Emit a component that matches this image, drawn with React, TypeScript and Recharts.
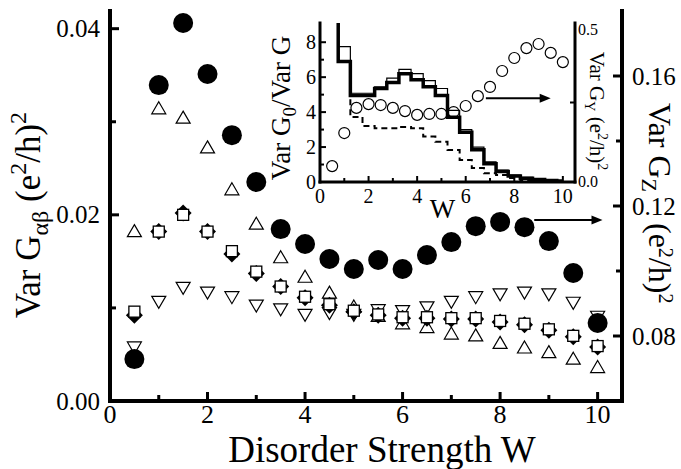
import React from "react";
import { ComposedChart, Scatter, Line, XAxis, YAxis, ReferenceLine } from "recharts";

const FONT = "'Liberation Serif', 'Times New Roman', 'DejaVu Serif', serif";
const txt = { fontFamily: FONT };

const disorder = [0.5, 1, 1.5, 2, 2.5, 3, 3.5, 4, 4.5, 5, 5.5, 6, 6.5, 7, 7.5, 8, 8.5, 9, 9.5, 10];

// main panel: Var G_ab, left axis
const varUp = [0.0183, 0.0315, 0.0305, 0.0273, 0.0228, 0.0191, 0.0155, 0.0134, 0.0117, 0.0102, 0.0092, 0.0084, 0.008, 0.0073, 0.0071, 0.0063, 0.0058, 0.0053, 0.0046, 0.0037];
const varDown = [0.0057, 0.0106, 0.0121, 0.0116, 0.0111, 0.0102, 0.0098, 0.0092, 0.0094, 0.0092, 0.0097, 0.0096, 0.01, 0.0106, 0.0111, 0.0114, 0.0116, 0.0114, 0.0105, 0.009];
const varDiamond = [0.0092, 0.0182, 0.0202, 0.0182, 0.0158, 0.0137, 0.0123, 0.0111, 0.0103, 0.0096, 0.0092, 0.0089, 0.0089, 0.0088, 0.0088, 0.0085, 0.0082, 0.0076, 0.0069, 0.0058];
const varSquare = [0.0096, 0.0182, 0.02, 0.0182, 0.0161, 0.0139, 0.0123, 0.0112, 0.0104, 0.0097, 0.0093, 0.009, 0.009, 0.0089, 0.0089, 0.0086, 0.0083, 0.0077, 0.007, 0.0059];
// Var G_Z, right axis
const varZ = [0.0729, 0.1572, 0.1763, 0.1606, 0.1418, 0.1274, 0.1129, 0.1083, 0.1037, 0.1006, 0.1034, 0.1006, 0.1049, 0.1089, 0.1138, 0.1151, 0.1135, 0.1092, 0.0994, 0.084];

// inset: Var G0 / Var G (left) and Var G_Y (right)
const ratioThin = [14, 7.75, 5.08, 5.08, 5.45, 5.95, 6.45, 6.2, 5.8, 5.35, 4.1, 3.0, 2.0, 1.15, 0.68, 0.4, 0.26, 0.17, 0.11, 0.07];
const ratioThick = [14, 6.9, 4.95, 4.95, 5.35, 5.7, 6.2, 5.85, 5.45, 4.95, 3.7, 2.85, 1.85, 1.05, 0.6, 0.35, 0.22, 0.14, 0.09, 0.06];
const ratioDashed = [14, 6.9, 3.72, 3.2, 3.08, 3.08, 3.15, 3.08, 2.6, 2.3, 1.83, 1.26, 0.8, 0.5, 0.4, 0.23, 0.12, 0.07, 0.04, 0.03];
const varY = [0.05, 0.154, 0.233, 0.245, 0.242, 0.233, 0.223, 0.211, 0.214, 0.214, 0.22, 0.239, 0.27, 0.299, 0.349, 0.39, 0.421, 0.434, 0.406, 0.377];

const wTicks = [0, 1, 2, 3, 4, 5, 6, 7, 8, 9, 10];
const leftTicks = [0, 0.01, 0.02, 0.03, 0.04];
const rightTicks = [0.08, 0.1, 0.12, 0.14, 0.16];
const insetLeftTicks = [0, 1, 2, 3, 4, 5, 6, 7, 8];
const insetRightTicks = [0, 0.25, 0.5];

const pts = (vals: number[]) => disorder.map((w, i) => ({ w, v: vals[i] }));
const insetData = disorder.map((w, i) => ({
  w,
  thin: ratioThin[i],
  thick: ratioThick[i],
  dash: ratioDashed[i],
  y: varY[i],
}));

type Side = "bottom" | "top" | "left" | "right";
interface TickSpec {
  side: Side;
  major: (v: number) => boolean;
  label?: (v: number) => string | null;
  len: number;
  minorLen: number;
  width: number;
  fontSize?: number;
  offset?: number;
  shift?: (v: number) => number;
}

function makeTick(s: TickSpec) {
  return (props: any) => {
    const { x, y, payload } = props;
    const v = payload.value;
    const big = s.major(v);
    const l = big ? s.len : s.minorLen;
    const text = big && s.label ? s.label(v) : null;
    const fs = s.fontSize ?? 24;
    const off = s.offset ?? 0;
    let x2 = x, y2 = y, tx = x, ty = y;
    let anchor = "middle";
    if (s.side === "bottom") { y2 = y - l; ty = y + off; }
    else if (s.side === "top") { y2 = y + l; }
    else if (s.side === "left") { x2 = x + l; tx = x - off; ty = y + fs * 0.34; anchor = "end"; }
    else { x2 = x - l; tx = x + off; ty = y + fs * 0.34; anchor = "start"; }
    if (text && s.shift) ty += s.shift(v);
    return (
      <g>
        {l > 0 && <line x1={x} y1={y} x2={x2} y2={y2} stroke="#000" strokeWidth={s.width} />}
        {text && (
          <text x={tx} y={ty} textAnchor={anchor} fontSize={fs} style={txt} fill="#000">
            {text}
          </text>
        )}
      </g>
    );
  };
}

const even = (v: number) => Math.round(v) % 2 === 0;
const axisMain = { stroke: "#000", strokeWidth: 4, strokeLinecap: "square" as const };
const axisInset = { stroke: "#000", strokeWidth: 3, strokeLinecap: "square" as const };

// marker shapes
const Dot = (p: any) => <circle cx={p.cx} cy={p.cy} r={10} fill="#000" />;
const UpTri = (p: any) => (
  <polygon points={`${p.cx},${p.cy - 6} ${p.cx + 7},${p.cy + 6} ${p.cx - 7},${p.cy + 6}`} fill="#fff" stroke="#000" strokeWidth={1.2} />
);
const DownTri = (p: any) => (
  <polygon points={`${p.cx - 7},${p.cy - 6} ${p.cx + 7},${p.cy - 6} ${p.cx},${p.cy + 6}`} fill="#fff" stroke="#000" strokeWidth={1.2} />
);
const Diamond = (p: any) => (
  <polygon points={`${p.cx},${p.cy - 8.5} ${p.cx + 8.5},${p.cy} ${p.cx},${p.cy + 8.5} ${p.cx - 8.5},${p.cy}`} fill="#000" />
);
const Square = (p: any) => (
  <rect x={p.cx - 5.5} y={p.cy - 5.5} width={11} height={11} fill="#fff" stroke="#000" strokeWidth={1.3} />
);
const OpenCircle = (p: any) => <circle cx={p.cx} cy={p.cy} r={5.5} fill="none" stroke="#000" strokeWidth={1.2} />;

const Arrow = (p: any) => {
  const { x1, y1, x2, y2 } = p;
  return (
    <g>
      <line x1={x1} y1={y1} x2={x2 - 8} y2={y2} stroke="#000" strokeWidth={2} />
      <polygon points={`${x2},${y2} ${x2 - 11},${y2 - 4.5} ${x2 - 11},${y2 + 4.5}`} fill="#000" />
    </g>
  );
};

function MainChart() {
  return (
    <ComposedChart width={681} height={469} margin={{ top: 11, right: 0, bottom: 0, left: 0 }}>
      <XAxis
        xAxisId="b"
        type="number"
        dataKey="w"
        domain={[0, 10.5]}
        ticks={wTicks}
        interval={0}
        height={68}
        tickSize={0}
        tickMargin={0}
        tickLine={false}
        axisLine={axisMain}
        allowDataOverflow
        tick={makeTick({ side: "bottom", major: even, label: (v) => String(v), len: 9, minorLen: 6, width: 3, fontSize: 26, offset: 22 })}
        label={(props: any) => {
          const vb = props.viewBox;
          return (
            <text x={vb.x + vb.width / 2 + 16} y={vb.y + 61} textAnchor="middle" fontSize={37} style={txt} fill="#000">
              Disorder Strength W
            </text>
          );
        }}
      />
      <XAxis
        xAxisId="t"
        orientation="top"
        type="number"
        dataKey="w"
        domain={[0, 10.5]}
        ticks={wTicks}
        interval={0}
        height={0}
        tickSize={0}
        tickMargin={0}
        tickLine={false}
        axisLine={axisMain}
        tick={makeTick({ side: "top", major: even, len: 9, minorLen: 6, width: 3 })}
      />
      <YAxis
        yAxisId="l"
        orientation="left"
        type="number"
        dataKey="v"
        domain={[0, 0.0419]}
        ticks={leftTicks}
        interval={0}
        width={110}
        tickSize={0}
        tickMargin={0}
        tickLine={false}
        axisLine={axisMain}
        allowDataOverflow
        tick={makeTick({ side: "left", major: (v) => Math.round(v * 100) % 2 === 0, label: (v) => v.toFixed(2), len: 9, minorLen: 6, width: 3, fontSize: 25, offset: 10 })}
        label={(props: any) => {
          const vb = props.viewBox;
          const cx = vb.x + 40;
          const cy = vb.y + vb.height / 2 + 9;
          return (
            <text transform={`translate(${cx},${cy}) rotate(-90)`} textAnchor="middle" fontSize={35} style={txt} fill="#000">
              Var G<tspan dy={8} fontSize={24}>αβ</tspan>
              <tspan dy={-8}> (e</tspan>
              <tspan dy={-14} fontSize={24}>2</tspan>
              <tspan dy={14}>/h)</tspan>
              <tspan dy={-14} fontSize={24}>2</tspan>
            </text>
          );
        }}
      />
      <YAxis
        yAxisId="r"
        orientation="right"
        type="number"
        dataKey="v"
        domain={[0.06, 0.18]}
        ticks={rightTicks}
        interval={0}
        width={59}
        tickSize={0}
        tickMargin={0}
        tickLine={false}
        axisLine={axisMain}
        allowDataOverflow
        tick={makeTick({ side: "right", major: (v) => Math.round(v * 100) % 4 === 0, label: (v) => v.toFixed(2), len: 9, minorLen: 6, width: 3, fontSize: 25, offset: 10 })}
        label={(props: any) => {
          const vb = props.viewBox;
          const cx = vb.x + 27;
          return (
            <g>
              <text transform={`translate(${cx},${vb.y + 92}) rotate(90)`} textAnchor="start" fontSize={32} style={txt} fill="#000">
                Var G<tspan dy={7} fontSize={22}>Z</tspan>
              </text>
              <text transform={`translate(${cx},${vb.y + 212}) rotate(90)`} textAnchor="start" fontSize={32} style={txt} fill="#000">
                (e<tspan dy={-10} fontSize={20}>2</tspan>
                <tspan dy={10}>/h)</tspan>
                <tspan dy={-10} fontSize={20}>2</tspan>
              </text>
            </g>
          );
        }}
      />
      <Scatter xAxisId="b" yAxisId="l" data={pts(varUp)} dataKey="v" shape={UpTri} isAnimationActive={false} />
      <Scatter xAxisId="b" yAxisId="l" data={pts(varDown)} dataKey="v" shape={DownTri} isAnimationActive={false} />
      <Scatter xAxisId="b" yAxisId="l" data={pts(varDiamond)} dataKey="v" shape={Diamond} isAnimationActive={false} />
      <Scatter xAxisId="b" yAxisId="l" data={pts(varSquare)} dataKey="v" shape={Square} isAnimationActive={false} />
      <Scatter xAxisId="b" yAxisId="r" data={pts(varZ)} dataKey="v" shape={Dot} isAnimationActive={false} />
      <ReferenceLine
        xAxisId="b"
        yAxisId="r"
        segment={[{ x: 8.7, y: 0.1157 }, { x: 10.1, y: 0.1157 }]}
        shape={Arrow}
      />
    </ComposedChart>
  );
}

function InsetChart() {
  return (
    <ComposedChart width={681} height={469} data={insetData} margin={{ top: 23, right: 0, bottom: 0, left: 0 }}>
      <XAxis
        xAxisId="b"
        type="number"
        dataKey="w"
        domain={[0, 10.5]}
        ticks={wTicks}
        interval={0}
        height={287}
        tickSize={0}
        tickMargin={0}
        tickLine={false}
        axisLine={axisInset}
        allowDataOverflow
        tick={makeTick({ side: "bottom", major: even, label: (v) => String(v), len: 6, minorLen: 4, width: 2, fontSize: 20, offset: 21 })}
        label={(props: any) => {
          const vb = props.viewBox;
          return (
            <text x={vb.x + vb.width / 2 - 5} y={vb.y + 36} textAnchor="middle" fontSize={27} style={txt} fill="#000">
              W
            </text>
          );
        }}
      />
      <XAxis
        xAxisId="t"
        orientation="top"
        type="number"
        dataKey="w"
        domain={[0, 10.5]}
        ticks={wTicks}
        interval={0}
        height={0}
        tickSize={0}
        tickMargin={0}
        tickLine={false}
        axisLine={axisInset}
        tick={makeTick({ side: "top", major: even, len: 6, minorLen: 4, width: 2 })}
      />
      <YAxis
        yAxisId="l"
        orientation="left"
        type="number"
        domain={[0, 9.1]}
        ticks={insetLeftTicks}
        interval={0}
        width={320}
        tickSize={0}
        tickMargin={0}
        tickLine={false}
        axisLine={axisInset}
        allowDataOverflow
        tick={makeTick({ side: "left", major: even, label: (v) => String(v), len: 6, minorLen: 4, width: 2, fontSize: 20, offset: 4 })}
        label={(props: any) => {
          const vb = props.viewBox;
          const cx = vb.x + vb.width - 30;
          const cy = vb.y + 85;
          return (
            <text transform={`translate(${cx},${cy}) rotate(-90)`} textAnchor="middle" fontSize={27} style={txt} fill="#000">
              Var G<tspan dy={6} fontSize={19}>0</tspan>
              <tspan dy={-6}>/Var G</tspan>
            </text>
          );
        }}
      />
      <YAxis
        yAxisId="r"
        orientation="right"
        type="number"
        dataKey="y"
        domain={[0, 0.5]}
        ticks={insetRightTicks}
        interval={0}
        width={106}
        tickSize={0}
        tickMargin={0}
        tickLine={false}
        axisLine={axisInset}
        allowDataOverflow
        tick={makeTick({
          side: "right",
          major: (v) => v === 0 || v === 0.5,
          label: (v) => v.toFixed(1),
          len: 0,
          minorLen: 5,
          width: 2,
          fontSize: 16,
          offset: 3,
          shift: (v) => (v > 0.4 ? 7 : 0),
        })}
        label={(props: any) => {
          const vb = props.viewBox;
          const cx = vb.x + 15;
          const cy = vb.y + 88;
          return (
            <text transform={`translate(${cx},${cy}) rotate(90)`} textAnchor="middle" fontSize={21} style={txt} fill="#000">
              Var G<tspan dy={5} fontSize={14}>Y</tspan>
              <tspan dy={-5}> (e</tspan>
              <tspan dy={-8} fontSize={14}>2</tspan>
              <tspan dy={8}>/h)</tspan>
              <tspan dy={-8} fontSize={14}>2</tspan>
            </text>
          );
        }}
      />
      <Line xAxisId="b" yAxisId="l" type="step" dataKey="thin" stroke="#000" strokeWidth={1.2} dot={false} isAnimationActive={false} />
      <Line xAxisId="b" yAxisId="l" type="step" dataKey="thick" stroke="#000" strokeWidth={3.5} dot={false} isAnimationActive={false} />
      <Line xAxisId="b" yAxisId="l" type="step" dataKey="dash" stroke="#000" strokeWidth={2} strokeDasharray="6 4" dot={false} isAnimationActive={false} />
      <Scatter xAxisId="b" yAxisId="r" dataKey="y" shape={OpenCircle} isAnimationActive={false} />
      <ReferenceLine
        xAxisId="b"
        yAxisId="l"
        segment={[{ x: 6.83, y: 4.8 }, { x: 9.5, y: 4.8 }]}
        shape={Arrow}
      />
    </ComposedChart>
  );
}

export default function App() {
  return (
    <div style={{ position: "absolute", left: 0, top: 0, width: 681, height: 469, background: "#fff", fontFamily: FONT }}>
      <MainChart />
      <div style={{ position: "absolute", left: 0, top: 0 }}>
        <InsetChart />
      </div>
    </div>
  );
}
